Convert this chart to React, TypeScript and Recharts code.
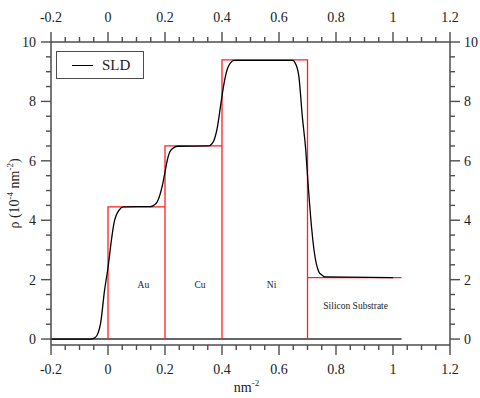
import React from 'react';
import { LineChart, Line, XAxis, YAxis, ReferenceDot } from 'recharts';

// x ticks (nm^-2): majors are labelled, the rest are minor
const xMajorTicks = [-0.2, 0, 0.2, 0.4, 0.6, 0.8, 1, 1.2];
const xTicks = [
  -0.2, -0.15, -0.1, -0.05, 0, 0.05, 0.1, 0.15, 0.2, 0.25, 0.3, 0.35, 0.4, 0.45,
  0.5, 0.55, 0.6, 0.65, 0.7, 0.75, 0.8, 0.85, 0.9, 0.95, 1, 1.05, 1.1, 1.15, 1.2,
];
const yMajorTicks = [0, 2, 4, 6, 8, 10];
const yTicks = [
  0, 0.5, 1, 1.5, 2, 2.5, 3, 3.5, 4, 4.5, 5, 5.5, 6, 6.5, 7, 7.5, 8, 8.5, 9, 9.5, 10,
];

// smoothed SLD curve
const sldX = [
  -0.2, -0.06, -0.045, -0.035, -0.026, -0.012, 0, 0.012, 0.021, 0.039, 0.054,
  0.15, 0.16, 0.173, 0.191, 0.2, 0.208, 0.22, 0.245, 0.354, 0.362, 0.372, 0.384,
  0.396, 0.407, 0.419, 0.43, 0.442, 0.647, 0.659, 0.67, 0.682, 0.694, 0.702,
  0.711, 0.723, 0.74, 0.75, 0.764, 1.0,
];
const sldY = [
  0, 0, 0.05, 0.2, 0.53, 1.65, 2.4, 3.33, 3.9, 4.34, 4.45,
  4.46, 4.5, 4.62, 5.18, 5.62, 6.02, 6.35, 6.49, 6.5, 6.55, 6.69, 7.14,
  7.92, 8.6, 9.1, 9.3, 9.38, 9.38, 9.25, 8.82, 7.47, 6.35, 5.23,
  4.11, 2.99, 2.26, 2.16, 2.09, 2.07,
];

// box (step) model
const boxX = [0, 0, 0.2, 0.2, 0.2, 0.4, 0.4, 0.4, 0.7, 0.7, 0.7, 1.03];
const boxY = [0, 4.45, 4.45, 0, 6.5, 6.5, 0, 9.4, 9.4, 0, 2.07, 2.07];

// zero baseline
const baseX = [-0.2, 1.03];
const baseY = [0, 0];

// layer annotations
const layerNames = ['Au', 'Cu', 'Ni', 'Silicon Substrate'];
const layerX = [0.124, 0.323, 0.574, 0.869];
const layerY = [1.82, 1.82, 1.82, 1.12];

const sldData = sldX.map((x, i) => ({ x, y: sldY[i] }));
const boxData = boxX.map((x, i) => ({ x, y: boxY[i] }));
const baseData = baseX.map((x, i) => ({ x, y: baseY[i] }));

const FONT = "'Liberation Serif', 'Times New Roman', Times, serif";
const AXIS = '#4d4d4d';
const TEXT = '#222';

const fmt = (v: number) => String(v);

const txt = { fontFamily: FONT };

const makeTick = (side: 'bottom' | 'top' | 'left' | 'right', majors: number[]) =>
  (props: any) => {
    const { x, y, payload } = props;
    const v = payload.value as number;
    const major = majors.includes(v);
    const len = major ? 10 : 5;
    let line;
    let label = null;
    if (side === 'bottom') {
      line = <line x1={x} y1={y} x2={x} y2={y + len} stroke={AXIS} strokeWidth={1.4} />;
      if (major)
        label = (
          <text x={x} y={y + 29} textAnchor="middle" fontSize={14} style={txt} fill={TEXT}>
            {fmt(v)}
          </text>
        );
    } else if (side === 'top') {
      line = <line x1={x} y1={y} x2={x} y2={y - len} stroke={AXIS} strokeWidth={1.4} />;
      if (major)
        label = (
          <text x={x} y={y - 20} textAnchor="middle" fontSize={14} style={txt} fill={TEXT}>
            {fmt(v)}
          </text>
        );
    } else if (side === 'left') {
      line = <line x1={x} y1={y} x2={x - len} y2={y} stroke={AXIS} strokeWidth={1.4} />;
      if (major)
        label = (
          <text x={x - 15} y={y + 5} textAnchor="end" fontSize={14} style={txt} fill={TEXT}>
            {fmt(v)}
          </text>
        );
    } else {
      line = <line x1={x} y1={y} x2={x + len} y2={y} stroke={AXIS} strokeWidth={1.4} />;
      if (major)
        label = (
          <text x={x + 14} y={y + 5} textAnchor="start" fontSize={14} style={txt} fill={TEXT}>
            {fmt(v)}
          </text>
        );
    }
    return (
      <g>
        {line}
        {label}
      </g>
    );
  };

const XTitle = (props: any) => {
  const { viewBox } = props;
  const cx = viewBox.x + viewBox.width / 2;
  return (
    <text x={cx - 4} y={viewBox.y + 47} textAnchor="middle" fontSize={14} style={txt} fill={TEXT}>
      nm
      <tspan fontSize={9} dy={-6}>-2</tspan>
    </text>
  );
};

const YTitle = (props: any) => {
  const { viewBox } = props;
  const cy = viewBox.y + viewBox.height / 2;
  const cx = 19;
  return (
    <text
      x={cx}
      y={cy}
      transform={`rotate(-90 ${cx} ${cy})`}
      textAnchor="middle"
      fontSize={14}
      style={txt}
      fill={TEXT}
    >
      ρ (10
      <tspan fontSize={9} dy={-6}>-4</tspan>
      <tspan dy={6}> nm</tspan>
      <tspan fontSize={9} dy={-6}>-2</tspan>
      <tspan dy={6}>)</tspan>
    </text>
  );
};

const LegendBox = () => (
  <div
    style={{
      position: 'absolute',
      left: 56,
      top: 51,
      width: 86,
      height: 26,
      border: `1.5px solid ${AXIS}`,
      background: '#fff',
      fontFamily: FONT,
    }}
  >
    <div
      style={{
        position: 'absolute',
        left: 15,
        top: 13,
        width: 21,
        borderTop: '1.4px solid #000',
      }}
    />
    <span
      style={{
        position: 'absolute',
        left: 45,
        top: 4,
        fontSize: 15,
        color: TEXT,
        lineHeight: '18px',
      }}
    >
      SLD
    </span>
  </div>
);

const LayerLabel = (name: string) => (props: any) => (
  <text
    x={props.cx}
    y={props.cy + 3}
    textAnchor="middle"
    fontSize={9.5}
    style={txt}
    fill={TEXT}
  >
    {name}
  </text>
);

export default function App() {
  return (
    <div
      style={{
        position: 'absolute',
        left: 0,
        top: 0,
        width: 480,
        height: 398,
        background: '#fff',
        fontFamily: FONT,
      }}
    >
      <LineChart width={480} height={398} margin={{ top: 0, right: 0, bottom: 0, left: 0 }}>
        <XAxis
          xAxisId="bottom"
          type="number"
          dataKey="x"
          domain={[-0.2, 1.2]}
          ticks={xTicks}
          interval={0}
          allowDataOverflow
          height={53}
          tickSize={0}
          tickMargin={0}
          tickLine={false}
          axisLine={{ stroke: AXIS, strokeWidth: 1.5 }}
          tick={makeTick('bottom', xMajorTicks)}
          label={{ content: XTitle }}
        />
        <XAxis
          xAxisId="top"
          orientation="top"
          type="number"
          dataKey="x"
          domain={[-0.2, 1.2]}
          ticks={xTicks}
          interval={0}
          allowDataOverflow
          height={42}
          tickSize={0}
          tickMargin={0}
          tickLine={false}
          axisLine={{ stroke: AXIS, strokeWidth: 1.5 }}
          tick={makeTick('top', xMajorTicks)}
        />
        <YAxis
          yAxisId="left"
          type="number"
          domain={[-0.2, 10]}
          ticks={yTicks}
          interval={0}
          allowDataOverflow
          width={51}
          tickSize={0}
          tickMargin={0}
          tickLine={false}
          axisLine={{ stroke: AXIS, strokeWidth: 1.5 }}
          tick={makeTick('left', yMajorTicks)}
          label={{ content: YTitle }}
        />
        <YAxis
          yAxisId="right"
          orientation="right"
          type="number"
          domain={[-0.2, 10]}
          ticks={yTicks}
          interval={0}
          allowDataOverflow
          width={30}
          tickSize={0}
          tickMargin={0}
          tickLine={false}
          axisLine={{ stroke: AXIS, strokeWidth: 1.5 }}
          tick={makeTick('right', yMajorTicks)}
        />
        <Line
          xAxisId="bottom"
          yAxisId="left"
          data={baseData}
          dataKey="y"
          type="linear"
          stroke="#333"
          strokeWidth={1.5}
          dot={false}
          isAnimationActive={false}
        />
        <Line
          xAxisId="bottom"
          yAxisId="left"
          data={boxData}
          dataKey="y"
          type="linear"
          stroke="#ff2020"
          strokeWidth={1.3}
          dot={false}
          isAnimationActive={false}
        />
        <Line
          xAxisId="bottom"
          yAxisId="left"
          data={sldData}
          dataKey="y"
          name="SLD"
          type="monotone"
          stroke="#000"
          strokeWidth={1.3}
          dot={false}
          isAnimationActive={false}
        />
        {layerNames.map((name, i) => (
          <ReferenceDot
            key={name}
            xAxisId="bottom"
            yAxisId="left"
            x={layerX[i]}
            y={layerY[i]}
            r={0}
            shape={LayerLabel(name)}
          />
        ))}
      </LineChart>
      <LegendBox />
    </div>
  );
}
